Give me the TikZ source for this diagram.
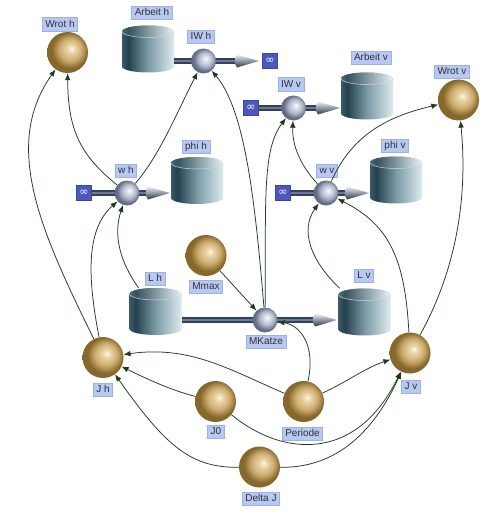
\documentclass[tikz,border=0pt]{standalone}
\usepackage{fontspec}
\setmainfont{Liberation Sans}
\newfontfamily\djv{DejaVu Sans}
\usetikzlibrary{arrows.meta,calc}
\definecolor{lblfill}{HTML}{B7C9F3}
\definecolor{lbldraw}{HTML}{9DB1E5}
\definecolor{lbltext}{HTML}{303030}
\definecolor{inffill}{HTML}{4B59BE}
\definecolor{connc}{HTML}{1E3A1E}
\definecolor{pipeD}{HTML}{34415C}
\definecolor{pipeL}{HTML}{6E7A95}
\definecolor{gHi}{HTML}{FFFAF0}
\definecolor{gLt}{HTML}{EBDAB0}
\definecolor{gMd}{HTML}{CBA96A}
\definecolor{gDk}{HTML}{86672C}
\definecolor{sHi}{HTML}{FFFFFF}
\definecolor{sLt}{HTML}{E4E7EF}
\definecolor{sMd}{HTML}{B1B8CA}
\definecolor{sDk}{HTML}{646C88}
\definecolor{cA}{HTML}{3B5967}
\definecolor{cB}{HTML}{23404D}
\definecolor{cC}{HTML}{7C9AA6}
\definecolor{cD}{HTML}{DDEBEF}
\definecolor{tA}{HTML}{4A6878}
\definecolor{tB}{HTML}{34525F}
\definecolor{tD}{HTML}{E8F2F5}
\definecolor{headLt}{HTML}{F0F2F6}
\definecolor{headMd}{HTML}{A2ABBE}
\definecolor{headDk}{HTML}{2C364A}
\pgfdeclareradialshading{goldshade}{\pgfqpoint{5bp}{5bp}}{color(0bp)=(gHi); color(4bp)=(gLt); color(14bp)=(gMd); color(22bp)=(gDk); color(25bp)=(gDk); color(50bp)=(gDk)}
\pgfdeclareradialshading{steelshade}{\pgfqpoint{5bp}{5bp}}{color(0bp)=(sHi); color(4bp)=(sLt); color(14bp)=(sMd); color(23bp)=(sDk); color(25bp)=(sDk); color(50bp)=(sDk)}
\pgfdeclarehorizontalshading{cylshade}{100bp}{color(0bp)=(cA); color(25bp)=(cA); color(31bp)=(cB); color(50bp)=(cC); color(75bp)=(cD); color(100bp)=(cD)}
\pgfdeclarehorizontalshading{cyltopshade}{100bp}{color(0bp)=(tA); color(25bp)=(tA); color(31bp)=(tB); color(75bp)=(tD); color(100bp)=(tD)}
\tikzset{
  goldsph/.style={circle, minimum size=41pt, inner sep=0pt, shading=goldshade},
  valvesph/.style={circle, minimum size=25pt, inner sep=0pt, shading=steelshade},
  lbl/.style={fill=lblfill, draw=lbldraw, line width=0.6pt, text=lbltext,
    font=\fontsize{10}{12}\selectfont, inner xsep=3pt, inner ysep=2pt,
    text height=7.4pt, text depth=2pt},
  infbox/.style={fill=inffill, draw=inffill!80!black, line width=0.5pt, text=white,
    minimum size=15pt, inner sep=0pt, font=\djv\fontsize{11}{11}\selectfont},
  cylnode/.style={rectangle, minimum width=52pt, minimum height=47pt, inner sep=0pt},
  conn/.style={draw=connc, line width=0.75pt, -{Latex[length=7pt,width=5.5pt]}},
  pipeouter/.style={draw=pipeD, line width=5.5pt},
  pipeinner/.style={draw=pipeL, line width=1.6pt},
}
\newcommand\cyl[3]{%
  \node[cylnode] (#1) at (#2,#3) {};
  \shade[shading=cylshade] (#2-26,#3-17.5) -- (#2-26,#3+17.5)
    arc[start angle=180,end angle=0,x radius=26,y radius=6] -- (#2+26,#3-17.5)
    arc[start angle=0,end angle=-180,x radius=26,y radius=6] -- cycle;
  \shade[shading=cyltopshade] (#2,#3-17.5) ellipse[x radius=26, y radius=6];
  \draw[white!75!cA, line width=0.5pt] (#2-26,#3-17.5) arc[start angle=180,end angle=0,x radius=26,y radius=6];
}
\newcommand\pipe[2]{%
  \draw[pipeouter] (#1) -- (#2);
  \draw[pipeinner] (#1) -- (#2);
}
\newcommand\fhead[1]{%
  \shade[top color=headLt, middle color=headMd, bottom color=headDk]
    ($(#1)+(-22,-6.5)$) -- (#1) -- ($(#1)+(-22,6.5)$)
    .. controls ($(#1)+(-25,3)$) and ($(#1)+(-25,-3)$) .. cycle;
}
\begin{document}
\begin{tikzpicture}[x=1pt,y=-1pt]
\useasboundingbox (0,0) rectangle (500,524);
\fill[white] (0,0) rectangle (500,524);

% cylinders (stocks)
\cyl{Arbeith}{148}{49}
\cyl{Arbeitv}{367}{96}
\cyl{phih}{197}{180.5}
\cyl{phiv}{396}{180}
\cyl{Lh}{155.5}{311.5}
\cyl{Lv}{364.5}{312}

% infinity sources/sinks
\node[infbox] (infIWh) at (270,61) {∞};
\node[infbox] (infIWv) at (251,108) {∞};
\node[infbox] (infwh) at (84,193) {∞};
\node[infbox] (infwv) at (283,193) {∞};

% flow tips
\coordinate (tIWh) at (259,61);
\coordinate (tIWv) at (340,108);
\coordinate (twh) at (170,193);
\coordinate (twv) at (369,193);
\coordinate (tMK) at (337,320);

% valve positions
\coordinate (pIWh) at (203.5,61);
\coordinate (pIWv) at (293.5,108);
\coordinate (pwh) at (127,193);
\coordinate (pwv) at (326,193);
\coordinate (pMK) at (265,320);

% pipes
\pipe{Arbeith.east |- pIWh}{$(tIWh)+(-18,0)$}
\pipe{infIWv.east}{$(tIWv)+(-18,0)$}
\pipe{infwh.east}{$(twh)+(-18,0)$}
\pipe{infwv.east}{$(twv)+(-18,0)$}
\pipe{Lh.east |- pMK}{$(tMK)+(-18,0)$}
\fhead{tIWh}
\fhead{tIWv}
\fhead{twh}
\fhead{twv}
\fhead{tMK}

% valves
\node[valvesph] (IWh) at (pIWh) {};
\node[valvesph] (IWv) at (pIWv) {};
\node[valvesph] (wh) at (pwh) {};
\node[valvesph] (wv) at (pwv) {};
\node[valvesph] (MKatze) at (pMK) {};

% auxiliaries / constants
\node[goldsph] (Wroth) at (67.5,52.5) {};
\node[goldsph] (Wrotv) at (458.5,100) {};
\node[goldsph] (Mmax) at (206,255.5) {};
\node[goldsph] (Jh) at (103,357.5) {};
\node[goldsph] (Jv) at (410,353) {};
\node[goldsph] (J0) at (215.5,401.5) {};
\node[goldsph] (Periode) at (303.5,401.5) {};
\node[goldsph] (DeltaJ) at (259.5,467) {};

% labels
\node[lbl] (lWroth) at (60,24.5) {Wrot h};
\node[lbl] (lArbeith) at (152,13) {Arbeit h};
\node[lbl] (lIWh) at (201,37) {IW h};
\node[lbl] (lIWv) at (291,84.5) {IW v};
\node[lbl] (lArbeitv) at (371,58) {Arbeit v};
\node[lbl] (lWrotv) at (452,72) {Wrot v};
\node[lbl] (lwh) at (126,171) {w h};
\node[lbl] (lphih) at (196,146.5) {phi h};
\node[lbl] (lwv) at (327,171) {w v};
\node[lbl] (lphiv) at (395,146) {phi v};
\node[lbl] (lMmax) at (206,287) {Mmax};
\node[lbl] (lLh) at (155,278.5) {L h};
\node[lbl] (lMKatze) at (266,342) {MKatze};
\node[lbl] (lLv) at (364,275.5) {L v};
\node[lbl] (lJh) at (103,390) {J h};
\node[lbl] (lJv) at (411,386.5) {J v};
\node[lbl] (lJ0) at (216,432) {J0};
\node[lbl] (lPeriode) at (302.5,434) {Periode};
\node[lbl] (lDeltaJ) at (261,498.5) {Delta J};

% connectors
\draw[conn] (Jh) .. controls (40,230) and (2,145) .. (Wroth);
\draw[conn] (wh) .. controls (80,155) and (68,130) .. (Wroth);
\draw[conn] (Jh) .. controls (88,280) and (85,230) .. (wh);
\draw[conn] (Lh) .. controls (120,262) and (113,235) .. (wh);
\draw[conn] (wh) .. controls (160,155) and (178,110) .. (IWh);
\draw[conn] (MKatze) .. controls (255,200) and (245,110) .. (IWh);
\draw[conn] (MKatze) .. controls (266,200) and (262,150) .. (IWv);
\draw[conn] (Mmax) -- (MKatze);
\draw[conn] (Periode) .. controls (316,345) and (300,325) .. (MKatze);
\draw[conn] (wv) .. controls (300,165) and (292,145) .. (IWv);
\draw[conn] (wv) .. controls (350,140) and (380,118) .. (Wrotv);
\draw[conn] (Jv) .. controls (445,290) and (470,220) .. (Wrotv);
\draw[conn] (Jv) .. controls (405,260) and (390,225) .. (wv);
\draw[conn] (Lv) .. controls (310,260) and (300,230) .. (wv);
\draw[conn] (Periode) .. controls (230,370) and (190,345) .. (Jh);
\draw[conn] (J0) .. controls (170,390) and (145,378) .. (Jh);
\draw[conn] (Periode) .. controls (345,383) and (365,368) .. (Jv);
\draw[conn] (J0) .. controls (280,455) and (355,465) .. (Jv);
\draw[conn] (DeltaJ) .. controls (190,468) and (165,445) .. (Jh);
\draw[conn] (DeltaJ) .. controls (330,468) and (370,440) .. (Jv);
\end{tikzpicture}
\end{document}
